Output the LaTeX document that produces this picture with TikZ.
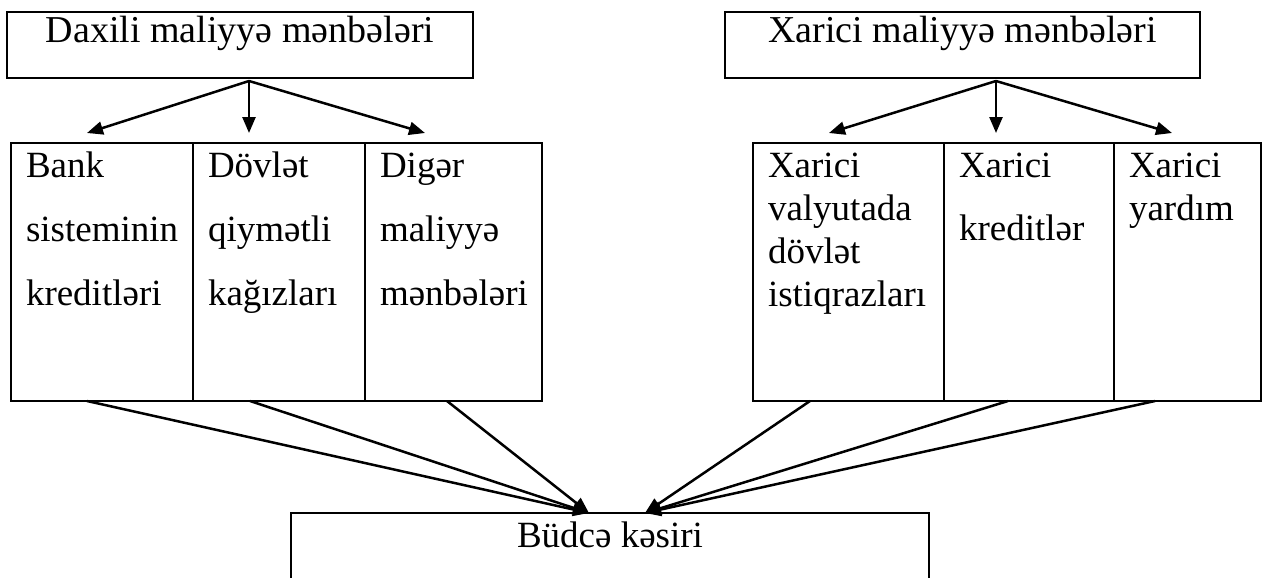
\documentclass[tikz,border=0pt]{standalone}
\usepackage{fontspec}
\setmainfont{Liberation Serif}
\usetikzlibrary{positioning, arrows.meta}

\tikzset{
    head/.style={draw, line width=1.3pt, inner sep=0pt, outer sep=0pt, text height=15pt, text depth=18pt, font=\fontsize{19}{22}\selectfont},
    cell/.style={draw, line width=1.3pt, inner xsep=7.5pt, inner ysep=0pt, outer sep=0pt},
    link/.style={line width=1.25pt, -{Triangle[length=8pt, width=6.5pt]}}
}
\newcommand{\celltext}[3]{\parbox[t][129pt][t]{#1}{\fontsize{18.5}{#2}\selectfont\raggedright\rule{0pt}{17pt}#3}}

\begin{document}
\begin{tikzpicture}[x=0.5pt, y=-0.5pt]
                \useasboundingbox (0,0) rectangle (1265,578);

                \node[head, anchor=north west, minimum width=233pt] (daxili) at (7,12) {Daxili maliyyə mənbələri};
                \node[head, anchor=north west, minimum width=237.5pt] (xarici) at (725,12) {Xarici maliyyə mənbələri};

                \node[cell, anchor=north west] (bank) at (11,143) {\celltext{76pt}{32pt}{Bank\\sisteminin\\kreditləri}};
                \node[cell, right=0pt of bank] (kagiz) {\celltext{71pt}{32pt}{Dövlət\\qiymətli\\kağızları}};
                \node[cell, right=0pt of kagiz] (diger) {\celltext{73.5pt}{32pt}{Digər\\maliyyə\\mənbələri}};

                \node[cell, anchor=north west] (istiqraz) at (753,143) {\celltext{80.5pt}{21.5pt}{Xarici\\valyutada\\dövlət\\istiqrazları}};
                \node[cell, right=0pt of istiqraz] (kredit) {\celltext{70pt}{31.5pt}{Xarici\\kreditlər}};
                \node[cell, right=0pt of kredit] (yardim) {\celltext{58.5pt}{21.5pt}{Xarici\\yardım}};

                \node[head, anchor=north, minimum width=319pt, text height=17pt, text depth=40pt, font=\fontsize{18.5}{22}\selectfont] (kesir) at (610,513) {Büdcə kəsiri};

                \coordinate (dfork) at (249,81);
                \coordinate (xfork) at (996,81);
                \coordinate (bank-in) at (87,133);
                \coordinate (kagiz-in) at (249,133);
                \coordinate (diger-in) at (425,133);
                \coordinate (istiqraz-in) at (829,133);
                \coordinate (kredit-in) at (996,133);
                \coordinate (yardim-in) at (1172,133);

                \coordinate (bank-out) at (87,401);
                \coordinate (kagiz-out) at (250,401);
                \coordinate (diger-out) at (447,401);
                \coordinate (istiqraz-out) at (810,401);
                \coordinate (kredit-out) at (1008,401);
                \coordinate (yardim-out) at (1155,401);
                \coordinate (kesir-l) at (589,513);
                \coordinate (kesir-r) at (645,513);

                \draw[link] (dfork) -- (bank-in);
                \draw[link] (dfork) -- (kagiz-in);
                \draw[link] (dfork) -- (diger-in);
                \draw[link] (xfork) -- (istiqraz-in);
                \draw[link] (xfork) -- (kredit-in);
                \draw[link] (xfork) -- (yardim-in);

                \draw[link] (bank-out) -- (kesir-l);
                \draw[link] (kagiz-out) -- (kesir-l);
                \draw[link] (diger-out) -- (kesir-l);
                \draw[link] (istiqraz-out) -- (kesir-r);
                \draw[link] (kredit-out) -- (kesir-r);
                \draw[link] (yardim-out) -- (kesir-r);
            \end{tikzpicture}
\end{document}
